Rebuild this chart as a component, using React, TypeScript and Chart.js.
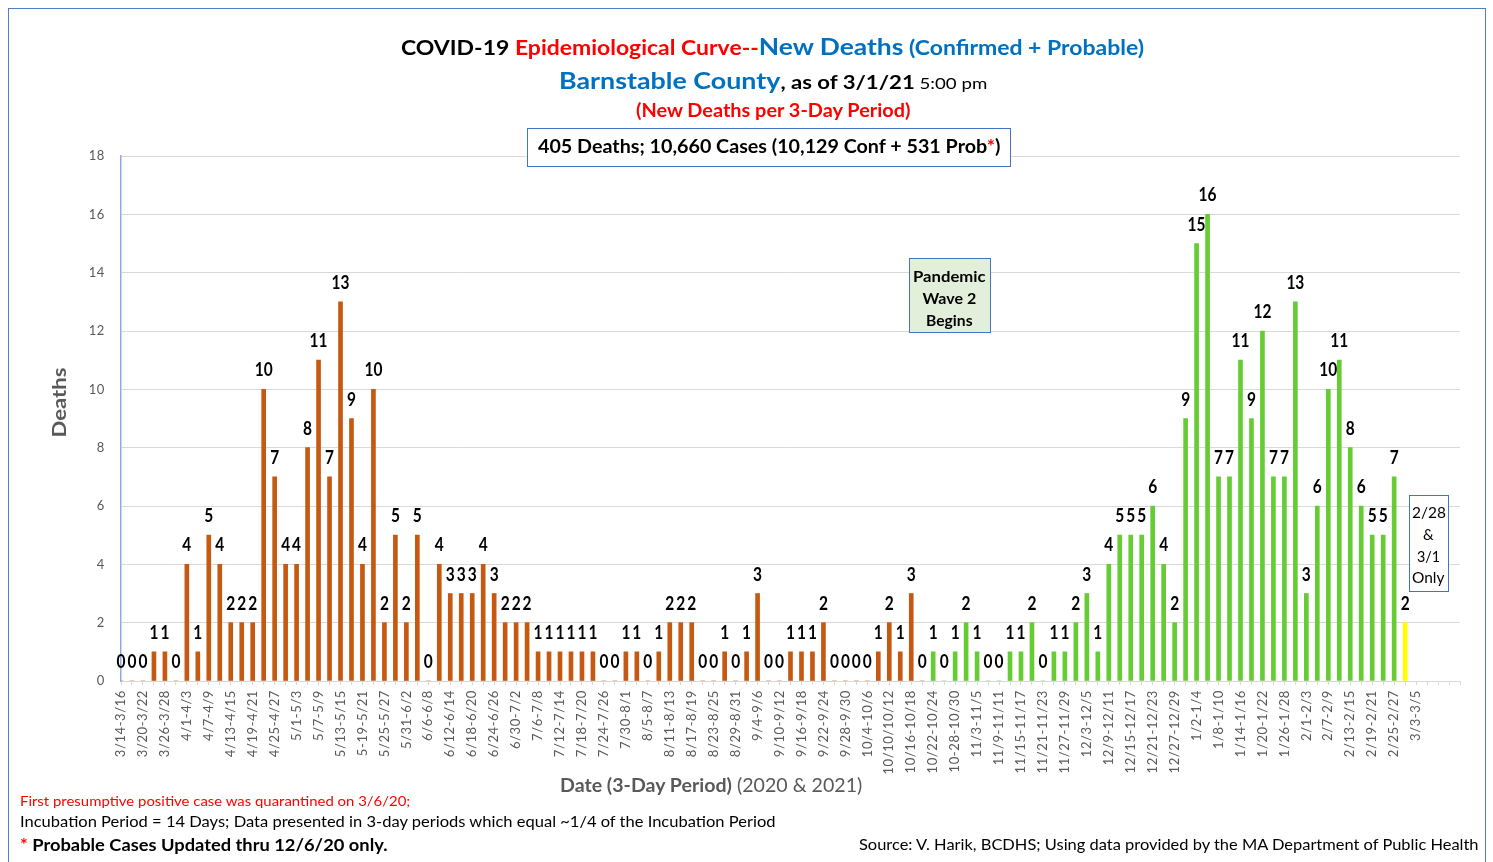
import React, { useEffect, useLayoutEffect, useRef } from 'react';
import { Chart, registerables } from 'chart.js';

Chart.register(...registerables);

// Labels shown under every other 3-day period (as printed on the reference)
const tickLabels: string[] = [
  '3/14-3/16', '3/20-3/22', '3/26-3/28', '4/1-4/3', '4/7-4/9', '4/13-4/15', '4/19-4/21', '4/25-4/27',
  '5/1-5/3', '5/7-5/9', '5/13-5/15', '5-19-5/21', '5/25-5/27', '5/31-6/2', '6/6-6/8', '6/12-6/14',
  '6/18-6/20', '6/24-6/26', '6/30-7/2', '7/6-7/8', '7/12-7/14', '7/18-7/20', '7/24-7/26', '7/30-8/1',
  '8/5-8/7', '8/11-8/13', '8/17-8/19', '8/23-8/25', '8/29-8/31', '9/4-9/6', '9/10-9/12', '9/16-9/18',
  '9/22-9/24', '9/28-9/30', '10/4-10/6', '10/10/10/12', '10/16-10/18', '10/22-10/24', '10-28-10/30',
  '11/3-11/5', '11/9-11/11', '11/15-11/17', '11/21-11/23', '11/27-11/29', '12/3-12/5', '12/9-12/11',
  '12/15-12/17', '12/21-12/23', '12/27-12/29', '1/2-1/4', '1/8-1/10', '1/14-1/16', '1/20-1/22',
  '1/26-1/28', '2/1-2/3', '2/7-2/9', '2/13-2/15', '2/19-2/21', '2/25-2/27', '3/3-3/5',
];

// Total number of 3-day slots on the axis (including the empty ones at the right end)
const periodCount = 123;

// New deaths per 3-day period, starting 3/14-3/16/20
const newDeaths: number[] = [
  0, 0, 0, 1, 1, 0, 4, 1, 5, 4,
  2, 2, 2, 10, 7, 4, 4, 8, 11, 7,
  13, 9, 4, 10, 2, 5, 2, 5, 0, 4,
  3, 3, 3, 4, 3, 2, 2, 2, 1, 1,
  1, 1, 1, 1, 0, 0, 1, 1, 0, 1,
  2, 2, 2, 0, 0, 1, 0, 1, 3, 0,
  0, 1, 1, 1, 2, 0, 0, 0, 0, 1,
  2, 1, 3, 0, 1, 0, 1, 2, 1, 0,
  0, 1, 1, 2, 0, 1, 1, 2, 3, 1,
  4, 5, 5, 5, 6, 4, 2, 9, 15, 16,
  7, 7, 11, 9, 12, 7, 7, 13, 3, 6,
  10, 11, 8, 6, 5, 5, 7, 2,
];

const wave2StartIndex = 74; // 10/22-10/24
const partialPeriodIndex = 117; // 2/28 & 3/1 only

const yTicks = { min: 0, max: 18, step: 2 };

const ORANGE = '#C65911';
const GREEN = '#66CC33';
const YELLOW = '#FFFF00';
const AXIS_GRAY = '#595959';

const categories: string[] = Array.from({ length: periodCount }, (_, i) =>
  i % 2 === 0 && tickLabels[i / 2] !== undefined ? tickLabels[i / 2] : ''
);

const valueLabelPlugin = {
  id: 'valueLabels',
  beforeDraw(chart: any) {
    (chart.ctx as any).letterSpacing = '0.6px';
  },
  beforeDatasetsDraw(chart: any) {
    (chart.ctx as any).letterSpacing = '0px';
  },
  afterDatasetsDraw(chart: any) {
    const ctx = chart.ctx as CanvasRenderingContext2D;
    const meta = chart.getDatasetMeta(0);
    const data = chart.data.datasets[0].data as (number | null)[];
    ctx.save();
    ctx.font = 'bold 18px Lato';
    ctx.fillStyle = '#000000';
    ctx.textAlign = 'center';
    ctx.textBaseline = 'alphabetic';
    meta.data.forEach((bar: any, i: number) => {
      const v = data[i];
      if (v === null || v === undefined) return;
      ctx.save();
      ctx.translate(bar.x, bar.y - 13);
      ctx.scale(0.86, 1);
      ctx.fillText(String(v), 0, 0);
      ctx.restore();
    });
    ctx.restore();
  },
};

type FitProps = {
  x: number;
  cy: number;
  w?: number;
  align?: 'left' | 'center' | 'right';
  size: number;
  rotate?: boolean;
  style?: React.CSSProperties;
  children: React.ReactNode;
};

function FitText({ x, cy, w, align = 'center', size, rotate, style, children }: FitProps) {
  const ref = useRef<HTMLDivElement>(null);
  useLayoutEffect(() => {
    const el = ref.current;
    if (!el) return;
    const nat = el.offsetWidth;
    const s = w && nat ? w / nat : 1;
    if (rotate) {
      el.style.left = `${x - nat / 2}px`;
      el.style.top = `${cy - size / 2}px`;
      el.style.transformOrigin = 'center center';
      el.style.transform = `rotate(-90deg) scaleX(${s})`;
    } else {
      const vis = nat * s;
      const left = align === 'center' ? x - vis / 2 : align === 'right' ? x - vis : x;
      el.style.left = `${left}px`;
      el.style.top = `${cy - 0.53 * size}px`;
      el.style.transformOrigin = 'left center';
      el.style.transform = `scaleX(${s})`;
    }
  });
  return (
    <div
      ref={ref}
      style={{
        position: 'absolute',
        left: x,
        top: cy,
        fontFamily: 'Lato, sans-serif',
        fontSize: size,
        lineHeight: `${size}px`,
        whiteSpace: 'nowrap',
        ...style,
      }}
    >
      {children}
    </div>
  );
}

export default function App() {
  const canvasRef = useRef<HTMLCanvasElement>(null);

  useEffect(() => {
    const canvas = canvasRef.current;
    if (!canvas) return;
    const chart = new Chart(canvas, {
      type: 'bar',
      data: {
        labels: categories,
        datasets: [
          {
            data: newDeaths,
            barThickness: 4,
            backgroundColor: (ctx: any) => {
              const i = ctx.dataIndex;
              if (i === partialPeriodIndex) return YELLOW;
              return i >= wave2StartIndex ? GREEN : ORANGE;
            },
            borderWidth: 0,
          },
        ],
      },
      options: {
        responsive: false,
        animation: false,
        events: [],
        layout: { padding: { left: 0, right: 33, top: 156, bottom: 0 } },
        plugins: {
          legend: { display: false },
          tooltip: { enabled: false },
          title: { display: false },
        },
        scales: {
          x: {
            offset: false,
            grid: {
              offset: false,
              drawOnChartArea: false,
              drawTicks: true,
              tickLength: 4,
              color: '#D9D9D9',
            },
            border: { color: '#D9D9D9', width: 1 },
            ticks: {
              autoSkip: false,
              maxRotation: 90,
              minRotation: 90,
              padding: 5,
              color: AXIS_GRAY,
              font: { family: 'Lato', size: 13 },
            },
            afterFit: (s: any) => {
              s.height = 181;
            },
          },
          y: {
            min: yTicks.min,
            max: yTicks.max,
            ticks: {
              stepSize: yTicks.step,
              padding: 16,
              color: AXIS_GRAY,
              font: { family: 'Lato', size: 13 },
            },
            grid: { color: '#D9D9D9', drawTicks: false, lineWidth: 1 },
            border: { color: '#8FAADC', width: 1.5 },
            afterFit: (s: any) => {
              s.width = 121;
            },
          },
        },
      } as any,
      plugins: [valueLabelPlugin],
    });
    return () => chart.destroy();
  }, []);

  const blue = '#0070C0';
  const red = '#FF0000';
  const boxBorder = '1px solid #4472C4';

  return (
    <>
      <canvas
        ref={canvasRef}
        width={1493}
        height={862}
        style={{ position: 'fixed', left: 0, top: 0, width: 1493, height: 862 }}
      />
      <div
        style={{
          position: 'fixed',
          left: 0,
          top: 0,
          width: 1493,
          height: 862,
          overflow: 'hidden',
          pointerEvents: 'none',
          fontFamily: 'Lato, sans-serif',
        }}
      >
        <div
          style={{
            position: 'absolute',
            left: 8,
            top: 8,
            width: 1476,
            height: 870,
            border: '1px solid #4F7FC8',
          }}
        />

        <FitText x={772.5} cy={47} w={743} size={23} style={{ fontWeight: 700 }}>
          <span style={{ fontSize: 20, color: '#000' }}>COVID-19 </span>
          <span style={{ fontSize: 20, color: red }}>Epidemiological Curve--</span>
          <span style={{ fontSize: 23, color: blue }}>New Deaths</span>
          <span style={{ fontSize: 20, color: blue }}> (Confirmed + Probable)</span>
        </FitText>

        <FitText x={773} cy={81} w={428} size={23} style={{ fontWeight: 700 }}>
          <span style={{ fontSize: 23, color: blue }}>Barnstable County</span>
          <span style={{ fontSize: 19, color: '#000' }}>, as of 3/1/21</span>
          <span style={{ fontSize: 16, color: '#000', fontWeight: 400 }}> 5:00 pm</span>
        </FitText>

        <FitText x={773} cy={111} w={274} size={18} style={{ fontWeight: 700, color: red }}>
          (New Deaths per 3-Day Period)
        </FitText>

        <div
          style={{
            position: 'absolute',
            left: 527,
            top: 128,
            width: 482,
            height: 37,
            border: boxBorder,
            background: '#FFFFFF',
          }}
        />
        <FitText x={769} cy={147} w={462} size={18} style={{ fontWeight: 700, color: '#000' }}>
          405 Deaths; 10,660 Cases (10,129 Conf + 531 Prob<span style={{ color: red }}>*</span>)
        </FitText>

        <div
          style={{
            position: 'absolute',
            left: 909,
            top: 258,
            width: 80,
            height: 73,
            border: boxBorder,
            background: '#E2EFDA',
          }}
        />
        <FitText x={949.5} cy={276} w={73} size={16} style={{ fontWeight: 700, color: '#000' }}>
          Pandemic
        </FitText>
        <FitText x={949.5} cy={298} w={54} size={16} style={{ fontWeight: 700, color: '#000' }}>
          Wave 2
        </FitText>
        <FitText x={949.5} cy={320} w={47} size={16} style={{ fontWeight: 700, color: '#000' }}>
          Begins
        </FitText>

        <div
          style={{
            position: 'absolute',
            left: 1409,
            top: 495,
            width: 38,
            height: 95,
            border: boxBorder,
            background: '#FFFFFF',
          }}
        />
        <FitText x={1428.5} cy={513} w={34} size={15} style={{ color: '#000' }}>
          2/28
        </FitText>
        <FitText x={1428.5} cy={535} size={15} style={{ color: '#000' }}>
          &amp;
        </FitText>
        <FitText x={1428.5} cy={557} w={23} size={15} style={{ color: '#000' }}>
          3/1
        </FitText>
        <FitText x={1428.5} cy={578} w={33} size={15} style={{ color: '#000' }}>
          Only
        </FitText>

        <FitText x={58} cy={402} w={70} size={19} rotate style={{ fontWeight: 700, color: AXIS_GRAY }}>
          Deaths
        </FitText>

        <FitText x={711} cy={785} w={302} size={19} style={{ color: AXIS_GRAY }}>
          <span style={{ fontWeight: 700 }}>Date (3-Day Period)</span> (2020 &amp; 2021)
        </FitText>

        <FitText x={20} cy={801} w={390} align="left" size={14} style={{ color: red }}>
          First presumptive positive case was quarantined on 3/6/20;
        </FitText>
        <FitText x={20} cy={822} w={756} align="left" size={15} style={{ color: '#000' }}>
          Incubation Period = 14 Days; Data presented in 3-day periods which equal ~1/4 of the Incubation Period
        </FitText>
        <FitText x={20} cy={845} w={367} align="left" size={17} style={{ fontWeight: 700, color: '#000' }}>
          <span style={{ color: red }}>*</span> Probable Cases Updated thru 12/6/20 only.
        </FitText>
        <FitText x={1478} cy={845} w={619} align="right" size={15} style={{ color: '#000' }}>
          Source: V. Harik, BCDHS; Using data provided by the MA Department of Public Health
        </FitText>
      </div>
    </>
  );
}
